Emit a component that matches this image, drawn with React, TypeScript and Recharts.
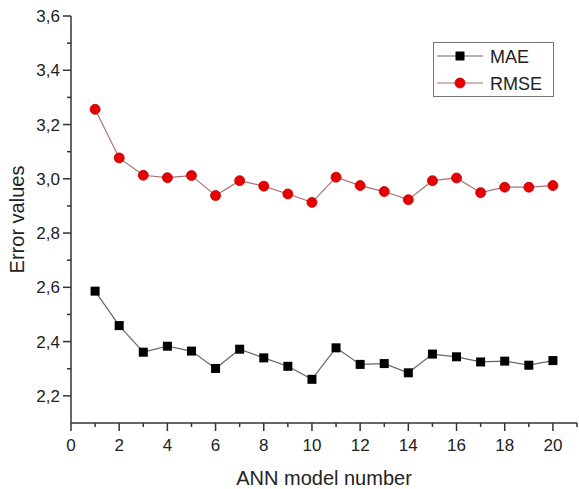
import React from "react";
import { LineChart, Line, XAxis, YAxis, Label } from "recharts";

const models = [1, 2, 3, 4, 5, 6, 7, 8, 9, 10, 11, 12, 13, 14, 15, 16, 17, 18, 19, 20];
const mae = [2.586, 2.459, 2.361, 2.383, 2.365, 2.301, 2.372, 2.34, 2.309, 2.261, 2.377, 2.316, 2.319, 2.285, 2.354, 2.344, 2.325, 2.328, 2.313, 2.33];
const rmse = [3.256, 3.077, 3.013, 3.004, 3.012, 2.938, 2.993, 2.973, 2.944, 2.913, 3.006, 2.975, 2.953, 2.923, 2.993, 3.003, 2.949, 2.969, 2.969, 2.975];
const xTicks = [0, 1, 2, 3, 4, 5, 6, 7, 8, 9, 10, 11, 12, 13, 14, 15, 16, 17, 18, 19, 20, 21];
const yTicks = [2.2, 2.3, 2.4, 2.5, 2.6, 2.7, 2.8, 2.9, 3.0, 3.1, 3.2, 3.3, 3.4, 3.5, 3.6];

const FONT = "'Liberation Sans', Arial, sans-serif";
const AXIS = "#333";
const TEXT = "#222";
const MAE_LINE = "#666";
const RMSE_LINE = "#a87272";
const RED = "#e80000";

const data = models.map((m, i) => ({ model: m, mae: mae[i], rmse: rmse[i] }));

function XTick({ x, y, payload }: any) {
  const v = payload.value;
  const major = v % 2 === 0;
  return (
    <g>
      <line x1={x} x2={x} y1={y} y2={y + (major ? 8 : 4)} stroke={AXIS} strokeWidth={1.5} />
      {major && (
        <text x={x} y={y + 28} textAnchor="middle" fontSize={17} fontFamily={FONT} fill={TEXT}>
          {v}
        </text>
      )}
    </g>
  );
}

function YTick({ x, y, payload }: any) {
  const v = payload.value;
  const major = Math.round(v * 10) % 2 === 0;
  return (
    <g>
      <line x1={x} x2={x - (major ? 8 : 4)} y1={y} y2={y} stroke={AXIS} strokeWidth={1.5} />
      {major && (
        <text x={x - 11} y={y + 6} textAnchor="end" fontSize={17} fontFamily={FONT} fill={TEXT}>
          {v.toFixed(1).replace(".", ",")}
        </text>
      )}
    </g>
  );
}

function SquareDot({ cx, cy }: any) {
  if (cx == null || cy == null) return null;
  return <rect x={cx - 4.5} y={cy - 4.5} width={9} height={9} fill="#000" />;
}

function CircleDot({ cx, cy }: any) {
  if (cx == null || cy == null) return null;
  return <circle cx={cx} cy={cy} r={5} fill={RED} stroke="#c40000" strokeWidth={0.8} />;
}

function YTitle({ viewBox }: any) {
  const cy = viewBox.y + viewBox.height / 2;
  return (
    <text
      x={24}
      y={cy}
      transform={`rotate(-90 24 ${cy})`}
      textAnchor="middle"
      fontSize={20}
      fontFamily={FONT}
      fill={TEXT}
    >
      Error values
    </text>
  );
}

function LegendBox() {
  return (
    <div
      style={{
        position: "absolute",
        left: 433,
        top: 42,
        width: 121,
        height: 55,
        border: "1px solid #777",
        boxSizing: "border-box",
        background: "#fff",
      }}
    >
      <svg width={119} height={53} style={{ display: "block" }}>
        <line x1={3} x2={49} y1={13} y2={13} stroke={MAE_LINE} strokeWidth={1.2} />
        <rect x={21.5} y={8.5} width={9} height={9} fill="#000" />
        <text x={56} y={20} fontSize={18} fontFamily={FONT} fill={TEXT}>MAE</text>
        <line x1={3} x2={49} y1={40} y2={40} stroke={RMSE_LINE} strokeWidth={1.2} />
        <circle cx={26} cy={40} r={5} fill={RED} stroke="#c40000" strokeWidth={0.8} />
        <text x={56} y={47} fontSize={18} fontFamily={FONT} fill={TEXT}>RMSE</text>
      </svg>
    </div>
  );
}

export default function App() {
  return (
    <div style={{ position: "absolute", left: 0, top: 0, width: 579, height: 489, background: "#fff" }}>
      <LineChart width={579} height={489} data={data} margin={{ top: 16, right: 2, left: 0, bottom: 0 }}>
        <XAxis
          dataKey="model"
          type="number"
          domain={[0, 21]}
          ticks={xTicks}
          interval={0}
          tick={<XTick />}
          tickSize={0}
          tickMargin={0}
          tickLine={false}
          axisLine={{ stroke: AXIS, strokeWidth: 1.5 }}
          height={66}
        >
          <Label
            value="ANN model number"
            position="insideBottom"
            offset={4}
            style={{ fontSize: 20, fontFamily: FONT, fill: TEXT }}
          />
        </XAxis>
        <YAxis
          type="number"
          domain={[2.1, 3.6]}
          ticks={yTicks}
          interval={0}
          tick={<YTick />}
          tickSize={0}
          tickMargin={0}
          tickLine={false}
          axisLine={{ stroke: AXIS, strokeWidth: 1.5 }}
          width={71}
        >
          <Label content={<YTitle />} />
        </YAxis>
        <Line
          type="linear"
          dataKey="mae"
          stroke={MAE_LINE}
          strokeWidth={1.2}
          dot={<SquareDot />}
          activeDot={false}
          isAnimationActive={false}
        />
        <Line
          type="linear"
          dataKey="rmse"
          stroke={RMSE_LINE}
          strokeWidth={1.2}
          dot={<CircleDot />}
          activeDot={false}
          isAnimationActive={false}
        />
      </LineChart>
      <LegendBox />
    </div>
  );
}
